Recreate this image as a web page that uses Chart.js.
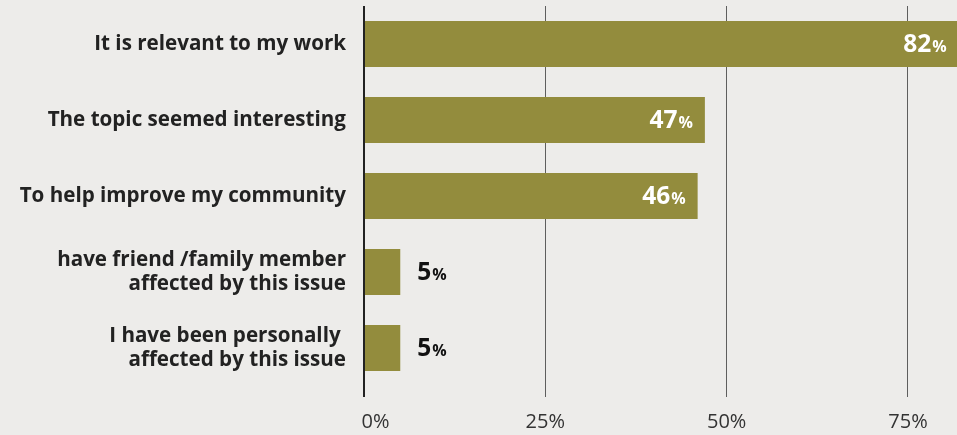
<!DOCTYPE html>
<html>
<head>
<meta charset="utf-8">
<script src="https://cdn.jsdelivr.net/npm/chart.js@4"></script>
<style>
  html, body { margin: 0; padding: 0; background: #edecea; }
  #wrap { width: 957px; height: 435px; position: relative; }
</style>
</head>
<body>
<div id="wrap"><canvas id="canvas"></canvas></div>
<script>
// reasons people gave, top to bottom
const categories = [
    "It is relevant to my work",
    "The topic seemed interesting",
    "To help improve my community",
    ["have friend /family member", "affected by this issue"],
    ["I have been personally ", "affected by this issue"]
];
const percentages = [82, 47, 46, 5, 5];
const tickValues = [0, 25, 50, 75];

const barColor = "#938c3d";

// draws the "82%" style labels, number big and % small
const valueLabels = {
    id: "valueLabels",
    afterDatasetsDraw(chart) {
        const ctx = chart.ctx;
        const meta = chart.getDatasetMeta(0);
        ctx.save();
        meta.data.forEach((bar, i) => {
            const value = percentages[i];
            const numFont = "700 24.5px 'Open Sans'";
            const pctFont = "700 16px 'Open Sans'";
            ctx.font = numFont;
            const numW = ctx.measureText(String(value)).width;
            ctx.font = pctFont;
            const pctW = ctx.measureText("%").width;
            const baseline = bar.y + 8;
            let start;
            if (value > 20) {
                ctx.fillStyle = "#ffffff";
                start = bar.x - 13 - pctW - numW;
            } else {
                ctx.fillStyle = "#111111";
                start = bar.x + 17;
            }
            ctx.textAlign = "left";
            ctx.textBaseline = "alphabetic";
            ctx.font = numFont;
            ctx.fillText(String(value), start, baseline);
            ctx.font = pctFont;
            ctx.fillText("%", start + numW + 1, baseline);
        });
        ctx.restore();
    }
};

new Chart(document.getElementById("canvas"), {
    type: "bar",
    data: {
        labels: categories,
        datasets: [{
            data: percentages,
            backgroundColor: barColor,
            borderWidth: 0,
            barPercentage: 0.605,
            categoryPercentage: 1
        }]
    },
    plugins: [valueLabels],
    options: {
        indexAxis: "y",
        responsive: true,
        maintainAspectRatio: false,
        animation: false,
        layout: { padding: { top: 6, left: 0, right: 0, bottom: 0 } },
        plugins: {
            legend: { display: false },
            tooltip: { enabled: false }
        },
        scales: {
            x: {
                min: 0,
                max: 81.76,
                afterBuildTicks: (scale) => {
                    scale.ticks = tickValues.map(v => ({ value: v }));
                },
                afterFit: (scale) => { scale.height = 49; },
                border: { display: false },
                grid: {
                    color: (c) => c.tick && c.tick.value === 0 ? "#222222" : "#5e5e5e",
                    lineWidth: (c) => c.tick && c.tick.value === 0 ? 2 : 1,
                    tickLength: 11
                },
                ticks: {
                    padding: 13,
                    color: "#333333",
                    font: { family: "'Open Sans'", size: 20, weight: "400" },
                    // the 0% label sits a bit right of its line in the original
                    callback: (v) => v === 0 ? "\u2007\u20070%" : v + "%"
                }
            },
            y: {
                afterFit: (scale) => {
                    scale.width = 364;
                    scale.paddingTop = 0;
                    scale.paddingBottom = 0;
                },
                border: { display: false },
                grid: { display: false, drawTicks: false },
                ticks: {
                    padding: 18,
                    color: "#222222",
                    font: { family: "'Open Sans'", size: 20.6, weight: "700", lineHeight: 1.14 }
                }
            }
        }
    }
});
</script>
</body>
</html>
